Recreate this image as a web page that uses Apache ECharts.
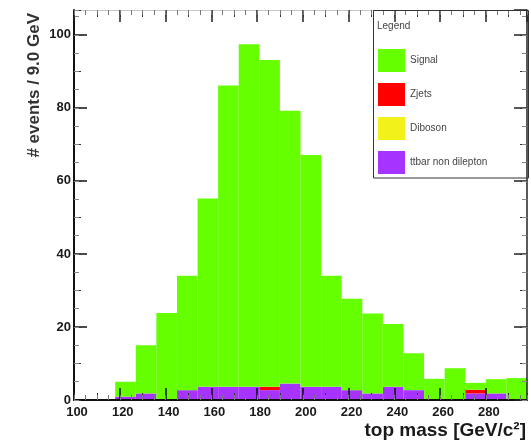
<!DOCTYPE html>
<html>
<head>
<meta charset="utf-8">
<script src="https://cdn.jsdelivr.net/npm/echarts@6/dist/echarts.min.js"></script>
<style>
  html, body { margin: 0; padding: 0; background: #fff; }
  #chart { width: 531px; height: 443px; }
</style>
</head>
<body>
<div id="chart"></div>
<script>
// Histogram binning: lower edges of the 9 GeV bins
const binLow = [100, 109, 118, 127, 136, 145, 154, 163, 172, 181, 190,
                199, 208, 217, 226, 235, 244, 253, 262, 271, 280, 289];
const BIN_WIDTH = 9;

// Per-bin event counts for each sample (stacked bottom to top: ttbar, Diboson, Zjets, Signal)
const ttbarNonDilepton = [0, 0, 0.9, 1.8, 0, 2.7, 3.6, 3.6, 3.6, 2.7, 4.5,
                          3.6, 3.6, 2.7, 1.8, 3.6, 2.7, 0, 0, 1.8, 1.8, 0];
const diboson = [0, 0, 0, 0, 0, 0, 0, 0, 0, 0, 0,
                 0, 0, 0, 0, 0, 0, 0, 0, 0, 0, 0];
const zjets = [0, 0, 0, 0, 0, 0, 0, 0, 0, 0.9, 0,
               0, 0, 0, 0, 0, 0, 0, 0, 1.0, 0, 0];
const signal = [0, 0, 4.1, 13.2, 23.8, 31.3, 51.6, 82.5, 93.8, 89.5, 74.7,
                63.5, 30.4, 25.0, 21.9, 17.2, 10.1, 5.8, 8.7, 1.9, 3.9, 6.0];

// Axis tick labels
const xTickLabels = [100, 120, 140, 160, 180, 200, 220, 240, 260, 280];
const yTickLabels = [0, 20, 40, 60, 80, 100];

const X_MIN = 100, X_MAX = 298;
const Y_MIN = 0, Y_MAX = 106.8;

const FONT = '"Liberation Sans", Arial, sans-serif';
const AXIS_Z = 5;

const samples = [
  { name: 'ttbar non dilepton', values: ttbarNonDilepton, color: '#a633ff' },
  { name: 'Diboson', values: diboson, color: '#f2f21a' },
  { name: 'Zjets', values: zjets, color: '#ff0000' },
  { name: 'Signal', values: signal, color: '#66ff00' }
];

// Build stacked rectangles [x0, x1, base, top] per sample
const base = binLow.map(() => 0);
const series = samples.map(s => {
  const data = binLow.map((lo, i) => {
    const b = base[i];
    const t = b + s.values[i];
    base[i] = t;
    return [lo, lo + BIN_WIDTH, b, t];
  });
  return {
    type: 'custom',
    name: s.name,
    xAxisIndex: 0,
    yAxisIndex: 0,
    z: 2,
    itemStyle: { color: s.color },
    encode: { x: [0, 1], y: [2, 3] },
    data: data,
    renderItem: function (params, api) {
      const x0 = api.value(0), x1 = api.value(1);
      const y0 = api.value(2), y1 = api.value(3);
      if (y1 <= y0) return null;
      const p0 = api.coord([x0, y0]);
      const p1 = api.coord([x1, y1]);
      return {
        type: 'rect',
        shape: { x: p0[0], y: p1[1], width: p1[0] - p0[0], height: p0[1] - p1[1] },
        style: { fill: s.color }
      };
    }
  };
});

function fmtX(v) { return xTickLabels.indexOf(v) >= 0 ? String(v) : ''; }
function fmtY(v) { return yTickLabels.indexOf(v) >= 0 ? String(v) : ''; }

// Tick-only helper axes (ROOT-style three-level ticks on all four sides)
function xTickAxis(position, interval, len, color) {
  return {
    type: 'value', position: position, offset: 0, z: AXIS_Z,
    min: X_MIN, max: X_MAX, interval: interval,
    axisLine: { show: false, onZero: false },
    axisTick: { show: true, inside: true, length: len, lineStyle: { color: color, width: 1 } },
    axisLabel: { show: false }, splitLine: { show: false }
  };
}
function yTickAxis(position, interval, len, color) {
  return {
    type: 'value', position: position, offset: 0, z: AXIS_Z,
    min: Y_MIN, max: Y_MAX, interval: interval,
    axisLine: { show: false, onZero: false },
    axisTick: { show: true, inside: true, length: len, lineStyle: { color: color, width: 1 } },
    axisLabel: { show: false }, splitLine: { show: false }
  };
}

const option = {
  animation: false,
  backgroundColor: '#ffffff',
  grid: { left: 74, right: 4, top: 10, bottom: 43, containLabel: false },
  xAxis: [
    {
      type: 'value', position: 'bottom', offset: 0, z: AXIS_Z,
      min: X_MIN, max: X_MAX, interval: 20,
      axisLine: { show: true, onZero: false, lineStyle: { color: '#111', width: 2 } },
      axisTick: { show: true, inside: true, length: 12, lineStyle: { color: '#111', width: 1.5 } },
      axisLabel: {
        formatter: fmtX, showMaxLabel: false, margin: 6,
        fontFamily: FONT, fontSize: 13, fontWeight: 'bold', color: '#1a1a1a',
        padding: [0, 0, 0, 6]
      },
      splitLine: { show: false }
    },
    {
      type: 'value', position: 'top', offset: 0, z: AXIS_Z,
      min: X_MIN, max: X_MAX, interval: 20,
      axisLine: { show: true, onZero: false, lineStyle: { color: '#c8c8c8', width: 1 } },
      axisTick: { show: true, inside: true, length: 12, lineStyle: { color: '#222', width: 1.5 } },
      axisLabel: { show: false }, splitLine: { show: false }
    },
    xTickAxis('bottom', 10, 7, '#333'),
    xTickAxis('bottom', 5, 5, '#777'),
    xTickAxis('top', 10, 7, '#333'),
    xTickAxis('top', 5, 5, '#777')
  ],
  yAxis: [
    {
      type: 'value', position: 'left', offset: 0, z: AXIS_Z,
      min: Y_MIN, max: Y_MAX, interval: 20,
      axisLine: { show: true, onZero: false, lineStyle: { color: '#111', width: 2 } },
      axisTick: { show: true, inside: true, length: 13, lineStyle: { color: '#111', width: 1.5 } },
      axisLabel: {
        formatter: fmtY, showMaxLabel: false, margin: 3,
        fontFamily: FONT, fontSize: 13, fontWeight: 'bold', color: '#1a1a1a'
      },
      splitLine: { show: false }
    },
    {
      type: 'value', position: 'right', offset: 0, z: AXIS_Z,
      min: Y_MIN, max: Y_MAX, interval: 20,
      axisLine: { show: true, onZero: false, lineStyle: { color: '#222', width: 1.5 } },
      axisTick: { show: true, inside: true, length: 13, lineStyle: { color: '#222', width: 1.5 } },
      axisLabel: { show: false }, splitLine: { show: false }
    },
    yTickAxis('left', 10, 7, '#333'),
    yTickAxis('left', 5, 5, '#888'),
    yTickAxis('right', 10, 7, '#333'),
    yTickAxis('right', 5, 5, '#888')
  ],
  legend: {
    data: ['Signal', 'Zjets', 'Diboson', 'ttbar non dilepton'],
    orient: 'vertical',
    left: 378,
    top: 49,
    itemWidth: 27,
    itemHeight: 23,
    itemGap: 11,
    icon: 'rect',
    padding: 0,
    z: 6,
    textStyle: { fontFamily: FONT, fontSize: 10, color: '#444' }
  },
  graphic: [
    {
      type: 'rect',
      z: 6,
      shape: { x: 373.5, y: 10.5, width: 155, height: 167.5 },
      style: { fill: 'rgba(0,0,0,0)', stroke: '#333', lineWidth: 1 }
    },
    {
      type: 'text',
      z: 6,
      x: 377, y: 26,
      style: {
        text: 'Legend', fontFamily: FONT, fontSize: 10, fill: '#444',
        align: 'left', verticalAlign: 'middle'
      }
    },
    {
      type: 'text',
      x: 34, y: 13,
      rotation: Math.PI / 2,
      style: {
        text: '# events / 9.0 GeV', fontFamily: FONT, fontSize: 17, fontWeight: 'bold',
        fill: '#333', align: 'right', verticalAlign: 'middle'
      }
    },
    {
      type: 'text',
      x: 526, y: 431,
      style: {
        text: 'top mass [GeV/c\u00B2]', fontFamily: FONT, fontSize: 19, fontWeight: 'bold',
        fill: '#1a1a1a', align: 'right', verticalAlign: 'middle'
      }
    }
  ],
  series: series
};

const chart = echarts.init(document.getElementById('chart'), null, { renderer: 'canvas' });
chart.setOption(option);
</script>
</body>
</html>
